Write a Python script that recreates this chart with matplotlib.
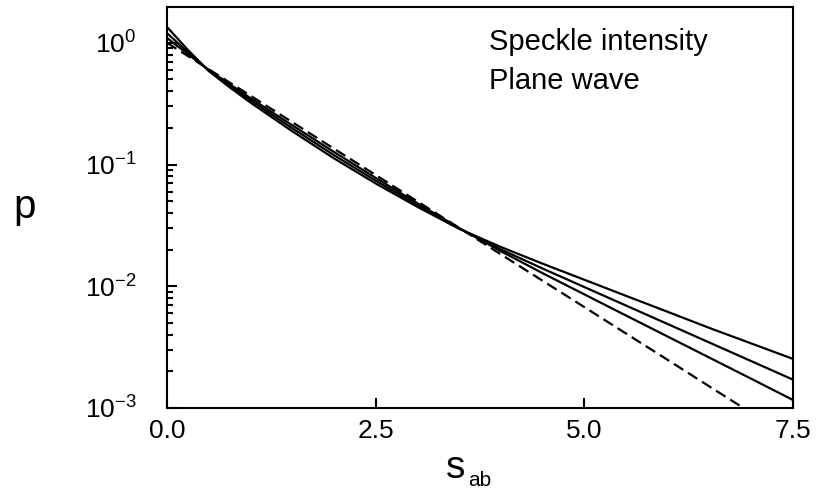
import matplotlib.pyplot as plt
from matplotlib.ticker import FixedLocator, FormatStrFormatter

plt.rcParams['font.family'] = ['Liberation Sans', 'DejaVu Sans']
plt.rcParams['mathtext.fontset'] = 'custom'
plt.rcParams['mathtext.rm'] = 'Liberation Sans'
plt.rcParams['mathtext.it'] = 'Liberation Sans'
plt.rcParams['axes.unicode_minus'] = False

s = [0, 0.25, 0.5, 0.75, 1.0, 1.5, 2.0, 2.5, 3.0, 3.5,
     4.0, 4.5, 5.0, 5.5, 6.0, 6.5, 7.0, 7.5]

# speckle intensity curves
p_speckle_1 = [1.349, 0.874, 0.586, 0.431, 0.3227, 0.1878, 0.1125, 0.0699, 0.0449, 0.02965,
               0.02102, 0.01533, 0.01131, 0.00834, 0.00616, 0.00454, 0.00339, 0.00253]
p_speckle_2 = [1.202, 0.8343, 0.5928, 0.4438, 0.3370, 0.1988, 0.1195, 0.0737, 0.04646, 0.02985,
               0.02008, 0.01398, 0.00985, 0.00694, 0.00489, 0.003445, 0.002426, 0.001709]
p_speckle_3 = [1.096, 0.8060, 0.5997, 0.4573, 0.3513, 0.2101, 0.1269, 0.07768, 0.04809, 0.03006,
               0.01940, 0.01281, 0.00858, 0.005746, 0.003857, 0.002588, 0.001738, 0.001163]
# plane wave (dashed)
p_plane = [1.0, 0.779, 0.607, 0.472, 0.368, 0.223, 0.135, 0.0821, 0.0498, 0.0302,
           0.0183, 0.0111, 0.00674, 0.00409, 0.00248, 0.00150, 0.000912, 0.000553]

x_ticks = [0.0, 2.5, 5.0, 7.5]

fig = plt.figure(figsize=(8.22, 4.95), dpi=100)
ax = fig.add_axes([0.2032, 0.1758, 0.7615, 0.8101])

for p in (p_speckle_1, p_speckle_2, p_speckle_3):
    ax.plot(s, p, color='black', lw=1.6, solid_joinstyle='round')
ax.plot(s, p_plane, color='black', lw=1.6, dashes=(5, 2.5))

ax.set_yscale('log')
ax.set_xlim(0, 7.5)
ax.set_ylim(1e-3, 1.97)

ax.xaxis.set_major_locator(FixedLocator(x_ticks))
ax.xaxis.set_major_formatter(FormatStrFormatter('%.1f'))

ax.tick_params(which='both', direction='in', top=False, right=False, width=1.5)
ax.tick_params(which='major', length=7)
ax.tick_params(which='minor', length=4.5)
ax.tick_params(axis='x', which='major', labelsize=19, pad=8)
ax.tick_params(axis='y', which='major', labelsize=19, pad=22)
ax.tick_params(axis='x', which='minor', bottom=False)

for sp in ax.spines.values():
    sp.set_linewidth(1.5)

ax.set_ylabel('p', fontsize=29, rotation=0, labelpad=43, va='center')
fig.text(0.543, 0.034, 's', fontsize=28, ha='left', va='baseline')
fig.text(0.569, 0.018, 'ab', fontsize=15, ha='left', va='baseline')

ax.text(0.514, 0.893, 'Speckle intensity', transform=ax.transAxes,
        fontsize=21, va='baseline', ha='left')
ax.text(0.514, 0.796, 'Plane wave', transform=ax.transAxes,
        fontsize=21, va='baseline', ha='left')

fig.savefig('out.png', dpi=100)
